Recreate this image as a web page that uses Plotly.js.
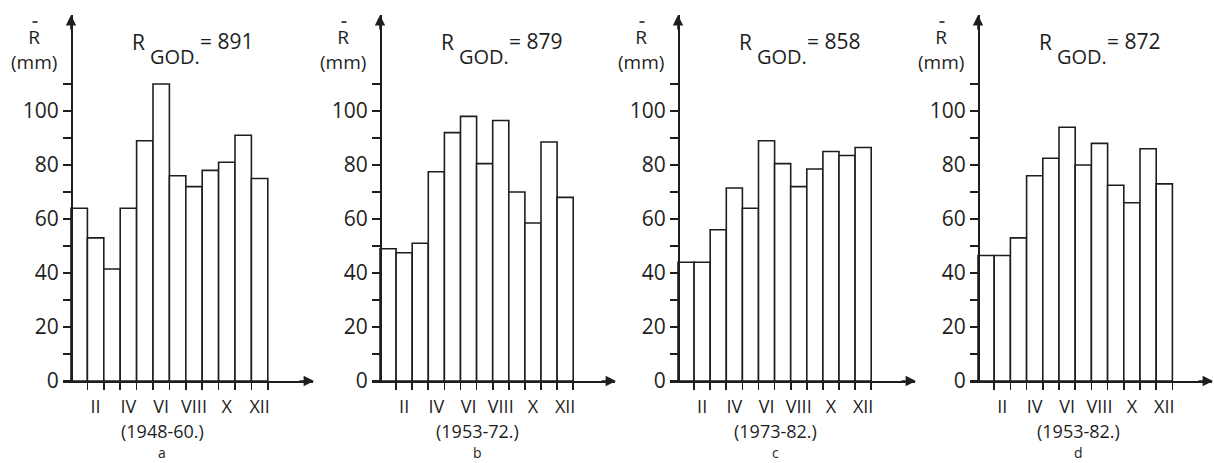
<!DOCTYPE html>
<html>
<head>
<meta charset="utf-8">
<script src="https://cdn.plot.ly/plotly-3.0.1.min.js"></script>
<style>html,body{margin:0;padding:0;background:#fff;}#chart{width:1214px;height:463px;}</style>
</head>
<body>
<div id="chart"></div>
<script>
// ---- data ----
const months = [1,2,3,4,5,6,7,8,9,10,11,12];
const romanPos = [2,4,6,8,10,12];
const romanText = ['II','IV','VI','VIII','X','XII'];
const valsA = [64, 53, 41.5, 64, 89, 110, 76, 72, 78, 81, 91, 75];
const valsB = [49, 47.5, 51, 77.5, 92, 98, 80.5, 96.5, 70, 58.5, 88.5, 68];
const valsC = [44, 44, 56, 71.5, 64, 89, 80.5, 72, 78.5, 85, 83.5, 86.5];
const valsD = [46.5, 46.5, 53, 76, 82.5, 94, 80, 88, 72.5, 66, 86, 73];
const annualTotals = ['891', '879', '858', '872'];
const periods = ['(1948-60.)', '(1953-72.)', '(1973-82.)', '(1953-82.)'];
const panelLetters = ['a', 'b', 'c', 'd'];
const yTickVals = [0, 20, 40, 60, 80, 100];
const yMinorVals = [10, 30, 50, 70, 90, 110];
const boundaries = [1.5,2.5,3.5,4.5,5.5,6.5,7.5,8.5,9.5,10.5,11.5,12.5];

// ---- geometry (pixels) ----
const W = 1214, H = 463;
const axisY = 381, topY = 15;
const panels = [
  {y0: 71,  w: 16.4, ext: 242, vals: valsA, bottomRel: 91},
  {y0: 380, w: 16.1, ext: 235, vals: valsB, bottomRel: 97},
  {y0: 678, w: 16.1, ext: 237, vals: valsC, bottomRel: 97},
  {y0: 978, w: 16.2, ext: 234, vals: valsD, bottomRel: 100}
];
const P = px => px / W;
const Q = py => 1 - py / H;
const ink = '#1e1e1e';
const FONT = 'Open Sans, Lato, DejaVu Sans, sans-serif';
const yTop = (axisY - topY) / 2.7;

const data = [];
const layout = {
  width: W, height: H,
  margin: {l: 0, r: 0, t: 0, b: 0},
  paper_bgcolor: '#fff', plot_bgcolor: 'rgba(0,0,0,0)',
  showlegend: false,
  font: {family: FONT, color: ink},
  annotations: [],
  shapes: []
};

panels.forEach((p, i) => {
  const s = i === 0 ? '' : String(i + 1);
  data.push({
    type: 'bar', x: months, y: p.vals, width: 1,
    xaxis: 'x' + s, yaxis: 'y' + s,
    marker: {color: '#fff', line: {color: ink, width: 1.6}},
    hoverinfo: 'x+y'
  });
  const left = p.y0 - 8, right = p.y0 + p.ext;
  layout['xaxis' + s] = {
    domain: [P(left), P(right)],
    range: [0.5 - 8 / p.w, 0.5 + p.ext / p.w],
    anchor: 'y' + s,
    showline: true, linecolor: ink, linewidth: 1.6,
    showgrid: false, zeroline: false,
    tickmode: 'array', tickvals: romanPos, ticktext: romanText,
    ticks: '', ticklabelstandoff: 9,
    tickfont: {size: 18, family: FONT, color: ink},
    minor: {tickmode: 'array', tickvals: boundaries, ticks: 'outside', ticklen: 7, tickwidth: 1.6, tickcolor: ink, showgrid: false},
    fixedrange: true
  };
  layout['yaxis' + s] = {
    domain: [Q(axisY), Q(topY)],
    range: [0, yTop],
    anchor: 'free', position: P(p.y0),
    showline: true, linecolor: ink, linewidth: 1.6,
    showgrid: false, zeroline: false,
    tickmode: 'array', tickvals: yTickVals,
    ticks: 'outside', ticklen: 8, tickwidth: 1.6, tickcolor: ink,
    tickfont: {size: 21, family: FONT, color: ink},
    minor: {tickmode: 'array', tickvals: yMinorVals, ticks: 'outside', ticklen: 8, tickwidth: 1.6, tickcolor: ink, showgrid: false},
    fixedrange: true
  };
  const A = layout.annotations;
  const txt = (x, y, t, size, xa, ya) => A.push({xref: 'paper', yref: 'paper', x: P(x), y: Q(y), text: t,
      showarrow: false, xanchor: xa, yanchor: ya, borderpad: 0, font: {size: size, family: FONT, color: ink}});
  // axis arrows
  A.push({xref: 'paper', yref: 'paper', x: P(p.y0), y: Q(topY), ax: 0, ay: 16, text: '',
          showarrow: true, arrowhead: 2, arrowsize: 1.3, arrowwidth: 1.6, arrowcolor: ink});
  A.push({xref: 'paper', yref: 'paper', x: P(Math.min(right + 1, W - 1)), y: Q(axisY), ax: -16, ay: 0, text: '',
          showarrow: true, arrowhead: 2, arrowsize: 1.3, arrowwidth: 1.6, arrowcolor: ink});
  // y-axis label: R with overbar, (mm)
  layout.shapes.push({type: 'line', xref: 'paper', yref: 'paper',
      x0: P(p.y0 - 38.5), x1: P(p.y0 - 33.5), y0: Q(22), y1: Q(22), line: {color: ink, width: 1.6}});
  txt(p.y0 - 37, 50, 'R<br>(mm)', 19, 'center', 'middle');
  // title R_GOD. = value
  txt(p.y0 + 75, 42, 'R', 21, 'right', 'middle');
  txt(p.y0 + 78, 57, 'GOD.', 20, 'left', 'middle');
  txt(p.y0 + 128, 41, '= ' + annualTotals[i], 21, 'left', 'middle');
  // period and letter
  txt(p.y0 + p.bottomRel, 431, periods[i], 18, 'center', 'middle');
  txt(p.y0 + p.bottomRel, 463, panelLetters[i], 14, 'center', 'bottom');
});

Plotly.newPlot('chart', data, layout, {displayModeBar: false, staticPlot: true});
</script>
</body>
</html>
